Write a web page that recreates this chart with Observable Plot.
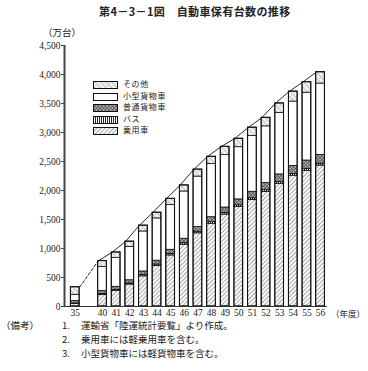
<!DOCTYPE html>
<html><head><meta charset="utf-8">
<script src="https://cdn.jsdelivr.net/npm/d3@7"></script>
<script src="https://cdn.jsdelivr.net/npm/@observablehq/plot@0.6"></script>
<style>
body{margin:0;background:#fff}
#wrap{position:relative;width:368px;height:371px;overflow:hidden;font-family:"Noto Sans CJK JP",sans-serif;color:#222}
.abs{position:absolute;white-space:nowrap;line-height:1}
.leg{position:absolute;left:93px;font-size:8px;line-height:1}
.leg svg{position:absolute;left:0;top:0}
.leg span{position:absolute;left:30px;top:-1px;white-space:nowrap;letter-spacing:0.6px}
.note{position:absolute;font-size:9.5px;white-space:nowrap;line-height:1}
</style></head><body>
<div id="wrap">
<svg width="0" height="0" style="position:absolute">
<defs>
<pattern id="pjou" width="3" height="3" patternUnits="userSpaceOnUse" patternTransform="rotate(45)"><rect width="3" height="3" fill="#fff"/><line x1="0.5" y1="0" x2="0.5" y2="3" stroke="#808080" stroke-width="0.7"/></pattern>
<pattern id="pbus" width="2" height="2" patternUnits="userSpaceOnUse"><rect width="2" height="2" fill="#fff"/><line x1="0.5" y1="0" x2="0.5" y2="2" stroke="#111" stroke-width="0.9"/></pattern>
<pattern id="pfutsu" width="2.5" height="2.5" patternUnits="userSpaceOnUse" patternTransform="rotate(45)"><rect width="2.5" height="2.5" fill="#bbb"/><line x1="0.5" y1="0" x2="0.5" y2="2.5" stroke="#333" stroke-width="0.6"/><line x1="0" y1="0.5" x2="2.5" y2="0.5" stroke="#333" stroke-width="0.6"/></pattern>
<pattern id="pkogata" width="4" height="4" patternUnits="userSpaceOnUse"><rect width="4" height="4" fill="#fff"/></pattern>
<pattern id="psonota" width="4" height="4" patternUnits="userSpaceOnUse" patternTransform="rotate(-45)"><rect width="4" height="4" fill="#f4f4f4"/><line x1="0.5" y1="0" x2="0.5" y2="4" stroke="#999" stroke-width="0.6"/><circle cx="2.5" cy="1.5" r="0.4" fill="#888"/></pattern>
</defs></svg>
<div id="chart"></div>
<div class="abs" style="left:99px;top:6px;font-size:11px;font-weight:bold;letter-spacing:0.4px">第4－3－1図　自動車保有台数の推移</div>
<div class="abs" style="left:43px;top:28px;font-size:9.5px">（万台）</div>
<div class="abs" style="left:331px;top:309px;font-size:8.5px">（年度）</div>
<div id="legend"></div>
<div class="note" style="left:1px;top:321px">（備考）</div>
<div class="note" style="left:62px;top:321px">1.</div>
<div class="note" style="left:81px;top:321px">運輸省「陸運統計要覧」より作成。</div>
<div class="note" style="left:62px;top:335px">2.</div>
<div class="note" style="left:81px;top:335px">乗用車には軽乗用車を含む。</div>
<div class="note" style="left:62px;top:349px">3.</div>
<div class="note" style="left:81px;top:349px">小型貨物車には軽貨物車を含む。</div>
</div>
<script>
// ---- data (万台) ----
const years = ["35","40","41","42","43","44","45","46","47","48","49","50","51","52","53","54","55","56"];
const jouyou  = [46, 200, 270, 379, 520, 700, 880, 1065, 1262, 1426, 1585, 1715, 1835, 1975, 2115, 2255, 2340, 2430];
const bus     = [6, 14, 16, 18, 22, 24, 26, 27, 28, 29, 30, 30, 31, 31, 32, 32, 32, 33];
const futsu   = [45, 52, 54, 56, 62, 66, 72, 76, 80, 85, 92, 102, 112, 122, 130, 137, 145, 152];
const kogata  = [105, 414, 495, 574, 690, 729, 770, 815, 870, 915, 903, 900, 960, 978, 1062, 1109, 1169, 1229];
const sonota  = [130, 103, 97, 91, 100, 98, 108, 105, 120, 126, 143, 145, 145, 147, 162, 172, 181, 195];
const seriesNames = ["乗用車", "バス", "普通貨物車", "小型貨物車", "その他"];
const seriesValues = [jouyou, bus, futsu, kogata, sonota];
const yTicks = [0, 500, 1000, 1500, 2000, 2500, 3000, 3500, 4000, 4500];

// ---- styles ----
const fills = {"乗用車": "url(#pjou)", "バス": "url(#pbus)", "普通貨物車": "url(#pfutsu)", "小型貨物車": "url(#pkogata)", "その他": "url(#psonota)"};
const hw = 0.32; // half bar width in slots
// slot index per year: one empty slot between 35 and 40
const idx = years.map((y, i) => i === 0 ? 0 : i + 1);
const xDomain = [-0.79, 18.51];

// stack
const rows = [];
const totals = years.map(() => 0);
years.forEach((yr, i) => {
  let acc = 0;
  seriesNames.forEach((s, k) => {
    const v = seriesValues[k][i];
    rows.push({year: yr, i: idx[i], s, y1: acc, y2: acc + v});
    acc += v;
  });
  totals[i] = acc;
});
const tops = years.map((yr, i) => ({i: idx[i], total: totals[i]}));

const marks = [];
seriesNames.forEach(s => {
  marks.push(Plot.rect(rows.filter(r => r.s === s), {
    x1: d => d.i - hw, x2: d => d.i + hw, y1: "y1", y2: "y2",
    fill: fills[s], stroke: "#111", strokeWidth: 0.8
  }));
});
// bar outlines (thicker sides)
marks.push(Plot.rect(tops, {x1: d => d.i - hw, x2: d => d.i + hw, y1: 0, y2: "total", fill: "none", stroke: "#111", strokeWidth: 1.1}));
// trend line through bar tops
marks.push(Plot.line(tops.slice(1), {x: d => d.i - hw, y: "total", stroke: "#111", strokeWidth: 0.9}));
marks.push(Plot.line([tops[0], tops[1]], {x: (d, j) => j === 0 ? d.i + hw : d.i - hw, y: "total", stroke: "#111", strokeWidth: 0.9, strokeDasharray: "3,2"}));
marks.push(Plot.ruleY([0], {stroke: "#333", strokeWidth: 1.2}));
marks.push(Plot.ruleX([xDomain[0]], {stroke: "#444", strokeWidth: 2}));
marks.push(Plot.axisY({ticks: yTicks, tickFormat: d3.format(","), tickSize: 3, tickPadding: 1, stroke: "#444"}));
marks.push(Plot.axisX({ticks: idx, tickFormat: v => years[idx.indexOf(v)], tickSize: 0, tickPadding: 3}));

const chart = Plot.plot({
  width: 368, height: 371,
  marginTop: 45, marginBottom: 65, marginLeft: 64, marginRight: 41,
  x: {type: "linear", domain: xDomain},
  y: {domain: [0, 4500]},
  style: {fontFamily: "'Liberation Serif', serif", fontSize: "9.5px", color: "#222", background: "transparent"},
  marks
});
chart.style.position = "absolute";
chart.style.left = "0";
chart.style.top = "0";
document.getElementById("chart").appendChild(chart);

// legend (top to bottom: その他 ... 乗用車)
const legend = document.getElementById("legend");
const legOrder = seriesNames.slice().reverse();
legOrder.forEach((s, k) => {
  const item = document.createElement("div");
  item.className = "leg";
  item.style.top = (81 + k * 11.6) + "px";
  item.innerHTML = `<svg width="26" height="9"><rect x="0.5" y="0.5" width="24" height="7" fill="${fills[s]}" stroke="#111" stroke-width="1"/></svg><span>${s}</span>`;
  legend.appendChild(item);
});
</script>
</body></html>
